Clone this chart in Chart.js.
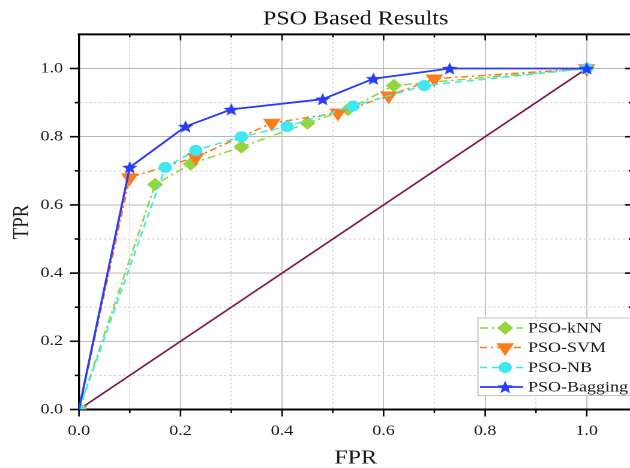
<!DOCTYPE html>
<html>
<head>
<meta charset="utf-8">
<script src="https://cdn.jsdelivr.net/npm/chart.js@4/dist/chart.umd.min.js"></script>
<style>
  html, body { margin: 0; padding: 0; background: #fff; overflow: hidden; width: 630px; height: 468px; }
  #wrap { position: absolute; left: 0; top: 0; width: 529px; height: 468px; transform: scaleX(1.2); transform-origin: 0 0; }
</style>
</head>
<body>
<div id="wrap"><canvas id="c" width="529" height="468"></canvas></div>
<script>
// ---- data ----
const fprKnn = [0, 0.15, 0.22, 0.32, 0.45, 0.53, 0.62, 1.0];
const tprKnn = [0, 0.66, 0.72, 0.77, 0.84, 0.88, 0.95, 1.0];
const fprSvm = [0, 0.10, 0.23, 0.38, 0.51, 0.61, 0.70, 1.0];
const tprSvm = [0, 0.68, 0.74, 0.84, 0.87, 0.92, 0.97, 1.0];
const fprNb  = [0, 0.17, 0.23, 0.32, 0.41, 0.54, 0.68, 1.0];
const tprNb  = [0, 0.71, 0.76, 0.80, 0.83, 0.89, 0.95, 1.0];
const fprBag = [0, 0.10, 0.21, 0.30, 0.48, 0.58, 0.73, 1.0];
const tprBag = [0, 0.71, 0.83, 0.88, 0.91, 0.97, 1.00, 1.0];
const fprDiag = [0, 1];
const tprDiag = [0, 1];
const seriesNames = ['PSO-kNN', 'PSO-SVM', 'PSO-NB', 'PSO-Bagging'];
const axisTicks = [0, 0.1, 0.2, 0.3, 0.4, 0.5, 0.6, 0.7, 0.8, 0.9, 1.0];
const tickLabels = ['0.0', '', '0.2', '', '0.4', '', '0.6', '', '0.8', '', '1.0'];
const titleText = 'PSO Based Results';
const xTitle = 'FPR';
const yTitle = 'TPR';

const SERIF = "'Liberation Serif', 'Times New Roman', serif";
const COLORS = { knn: '#94d53c', svm: '#ff7c1a', nb: '#3ee8f2', bag: '#2b3cf5', diag: '#7d1850' };

function pts(xs, ys) { return xs.map((v, i) => ({ x: v, y: ys[i] })); }

// star marker as an image (drawn at high resolution, displayed small)
function starPath(ctx, cx, cy, R, r) {
  ctx.beginPath();
  for (let k = 0; k < 10; k++) {
    const rad = -Math.PI / 2 + k * Math.PI / 5;
    const rr = k % 2 === 0 ? R : r;
    const px = cx + rr * Math.cos(rad), py = cy + rr * Math.sin(rad);
    if (k === 0) ctx.moveTo(px, py); else ctx.lineTo(px, py);
  }
  ctx.closePath();
}
const STAR = 13, SS = 4;
const sc = document.createElement('canvas');
sc.width = STAR * SS; sc.height = STAR * SS;
const sctx = sc.getContext('2d');
sctx.scale(SS, SS);
starPath(sctx, STAR / 2, STAR / 2 + 0.6, 6, 2.6);
sctx.fillStyle = COLORS.bag; sctx.fill();
sctx.lineWidth = 0.6; sctx.strokeStyle = COLORS.bag; sctx.stroke();
const starImg = new Image();
starImg.width = STAR; starImg.height = STAR;

const isMajor = (v) => Math.round(v * 10) % 2 === 0;

const axesPlugin = {
  id: 'axesDeco',
  afterDraw(chart) {
    const { ctx, chartArea: a, scales: { x, y } } = chart;
    ctx.save();
    ctx.strokeStyle = '#000';
    ctx.lineCap = 'butt';
    const line = (x1, y1, x2, y2) => { ctx.beginPath(); ctx.moveTo(x1, y1); ctx.lineTo(x2, y2); ctx.stroke(); };
    ctx.lineWidth = 2;
    line(a.left - 1, a.top, a.right + 1, a.top);
    ctx.lineWidth = 1.7;
    line(a.right, a.top, a.right, a.bottom);
    ctx.lineWidth = 1.3;
    axisTicks.forEach((v) => {
      const px = x.getPixelForValue(v);
      const m = isMajor(v);
      line(px, a.bottom, px, a.bottom + (m ? 7 : 3.5));
      line(px, a.top, px, a.top + (m ? 6 : 3));
    });
    ctx.lineWidth = 1.6;
    axisTicks.forEach((v) => {
      const py = y.getPixelForValue(v);
      const m = isMajor(v);
      line(a.left - (m ? 7.5 : 3.5), py, a.left, py);
      line(a.right, py, a.right - (m ? 6 : 3), py);
    });
    ctx.restore();

    // legend box
    const bx = 398.3, by = 318, bw = 200, bh = 77.5;
    ctx.save();
    ctx.fillStyle = '#fff';
    ctx.fillRect(bx, by, bw, bh);
    ctx.strokeStyle = '#c4c4c4';
    ctx.lineWidth = 1;
    ctx.strokeRect(bx, by, bw, bh);
    const rows = [328, 347.5, 367.5, 387];
    const ds = chart.data.datasets;
    const order = [3, 2, 1, 0]; // dataset index for each legend row (kNN, SVM, NB, Bagging)
    order.forEach((di, r) => {
      const d = ds[di];
      const yy = rows[r];
      ctx.save();
      ctx.strokeStyle = d.borderColor;
      ctx.lineWidth = d.borderWidth;
      ctx.setLineDash(d.borderDash || []);
      ctx.beginPath(); ctx.moveTo(400, yy); ctx.lineTo(436, yy); ctx.stroke();
      ctx.restore();
      const mx = 421;
      ctx.save();
      ctx.fillStyle = d.backgroundColor; ctx.strokeStyle = d.borderColor; ctx.lineWidth = 1;
      if (d.pointStyle === 'rectRot') {
        const rr = d.pointRadius;
        ctx.beginPath(); ctx.moveTo(mx, yy - rr); ctx.lineTo(mx + rr, yy); ctx.lineTo(mx, yy + rr); ctx.lineTo(mx - rr, yy); ctx.closePath(); ctx.fill(); ctx.stroke();
      } else if (d.pointStyle === 'triangle') {
        const rr = d.pointRadius;
        ctx.beginPath();
        for (let k = 0; k < 3; k++) {
          const ang = Math.PI / 2 + k * 2 * Math.PI / 3;
          const px = mx + rr * Math.cos(ang), py = yy + rr * Math.sin(ang);
          if (k === 0) ctx.moveTo(px, py); else ctx.lineTo(px, py);
        }
        ctx.closePath(); ctx.fill(); ctx.stroke();
      } else if (d.pointStyle === 'circle') {
        ctx.beginPath(); ctx.arc(mx, yy, d.pointRadius, 0, Math.PI * 2); ctx.fill(); ctx.stroke();
      } else {
        ctx.drawImage(starImg, mx - STAR / 2, yy - STAR / 2, STAR, STAR);
      }
      ctx.restore();
      ctx.fillStyle = '#1a1a1a';
      ctx.font = '15px ' + SERIF;
      ctx.textBaseline = 'middle';
      ctx.textAlign = 'left';
      ctx.fillText(d.label, 440, yy + 0.5);
    });
    ctx.restore();
  }
};

function hideFirst(r) { return (ctx) => (ctx.dataIndex === 0 ? 0 : r); }

function scaleOpts(axis, titleTxt) {
  return {
    type: 'linear',
    min: 0,
    max: axis === 'x' ? 1.09 : 1.1,
    afterBuildTicks: (s) => { s.ticks = axisTicks.map((v) => ({ value: v })); },
    ticks: {
      autoSkip: false,
      maxRotation: 0,
      color: '#1a1a1a',
      font: { family: SERIF, size: 15, lineHeight: 1.2 },
      padding: axis === 'x' ? 12.5 : 13.3,
      callback: (v, i) => tickLabels[i]
    },
    grid: {
      drawTicks: false,
      color: (c) => (c.tick && isMajor(c.tick.value) ? '#b8b8b8' : '#d2d2d2'),
      lineWidth: axis === 'x' ? 0.85 : 1
    },
    border: {
      display: true,
      color: '#000',
      width: axis === 'x' ? 2 : 1.7,
      dash: (c) => (c.tick && !isMajor(c.tick.value) ? [2, 2] : [])
    },
    title: {
      display: true,
      text: titleTxt,
      color: '#1a1a1a',
      font: axis === 'x' ? { family: SERIF, size: 20, lineHeight: 1 } : { family: SERIF, size: 19, lineHeight: 1.2 },
      padding: axis === 'x' ? { top: 0, bottom: 0 } : { top: 7.3, bottom: 0 }
    },
    afterFit: (s) => {
      s.paddingLeft = 0; s.paddingRight = 0; s.paddingTop = 0; s.paddingBottom = 0;
      if (axis === 'x') s.height = 58.5; else s.width = 65.8;
    }
  };
}

function build() {
  new Chart(document.getElementById('c'), {
    type: 'scatter',
    data: {
      datasets: [
        {
          label: seriesNames[3], data: pts(fprBag, tprBag), showLine: true,
          borderColor: COLORS.bag, backgroundColor: COLORS.bag, borderWidth: 1.8,
          pointStyle: starImg, pointRadius: hideFirst(6), borderDash: []
        },
        {
          label: seriesNames[2], data: pts(fprNb, tprNb), showLine: true,
          borderColor: COLORS.nb, backgroundColor: COLORS.nb, borderWidth: 1.5, borderDash: [6, 4],
          pointStyle: 'circle', pointRadius: 5, pointBorderWidth: 1
        },
        {
          label: seriesNames[1], data: pts(fprSvm, tprSvm), showLine: true,
          borderColor: COLORS.svm, backgroundColor: COLORS.svm, borderWidth: 1.5, borderDash: [6, 3, 2, 3],
          pointStyle: 'triangle', pointRotation: 180, pointRadius: 7.5, pointBorderWidth: 1
        },
        {
          label: seriesNames[0], data: pts(fprKnn, tprKnn), showLine: true,
          borderColor: COLORS.knn, backgroundColor: COLORS.knn, borderWidth: 1.5, borderDash: [7, 3, 2, 3],
          pointStyle: 'rectRot', pointRadius: 6, pointBorderWidth: 1
        },
        {
          label: 'diagonal', data: pts(fprDiag, tprDiag), showLine: true,
          borderColor: COLORS.diag, backgroundColor: COLORS.diag, borderWidth: 1.6, pointRadius: 0
        }
      ]
    },
    options: {
      responsive: false,
      devicePixelRatio: 2,
      animation: false,
      events: [],
      layout: { autoPadding: false, padding: { left: 0, right: 2, top: 0, bottom: 0 } },
      elements: { line: { tension: 0 } },
      plugins: {
        legend: { display: false },
        tooltip: { enabled: false },
        title: {
          display: true, text: titleText, color: '#111', fullSize: false,
          font: { family: SERIF, size: 20, weight: 'normal', lineHeight: 1.2 },
          padding: { top: 7, bottom: 3.4 }
        }
      },
      scales: { x: scaleOpts('x', xTitle), y: scaleOpts('y', yTitle) }
    },
    plugins: [axesPlugin]
  });
}
starImg.onload = build;
starImg.src = sc.toDataURL();
</script>
</body>
</html>
